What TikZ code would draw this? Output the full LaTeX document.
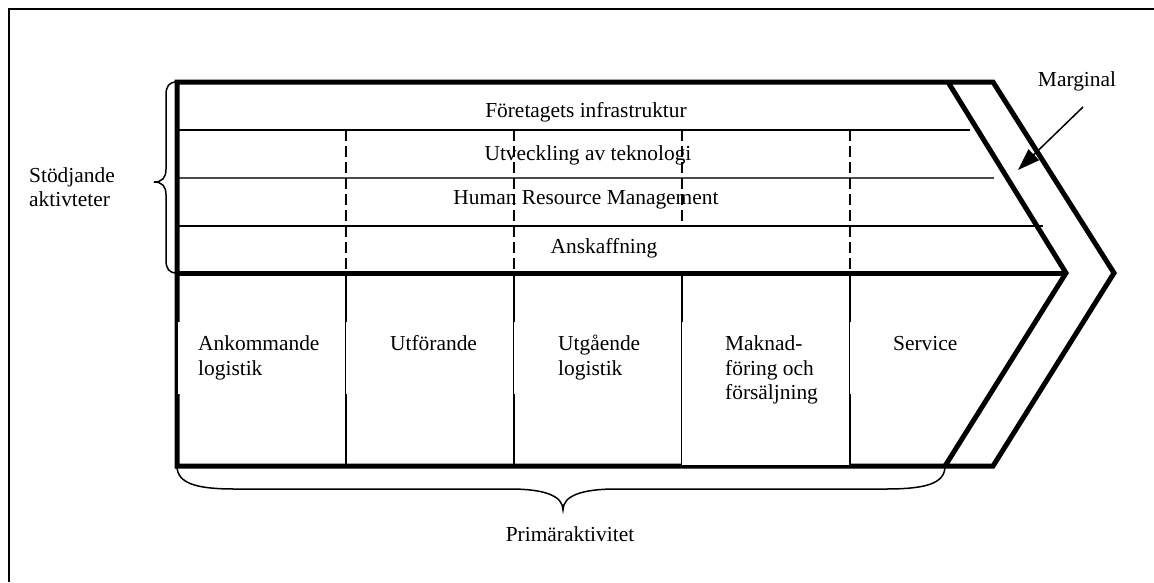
\documentclass[tikz,border=0pt]{standalone}
\usepackage{fontspec}
\setmainfont{Liberation Serif}
\usetikzlibrary{arrows.meta}
\begin{document}
\begin{tikzpicture}[x=1pt,y=-1pt,
  heavy/.style={line width=5pt, line join=miter},
  rowline/.style={line width=1.7pt},
  colline/.style={line width=2pt},
  dashline/.style={line width=2pt, dash pattern=on 11pt off 5pt},
  bracepath/.style={line width=1.5pt},
  lbl/.style={font=\fontsize{21.4}{24.5}\selectfont, inner sep=0pt},
  cellpad/.style={fill=white},
]
\useasboundingbox (0,0) rectangle (1154,582);

% page frame (top and left edges only)
\draw[line width=2pt] (9,582) -- (9,9) -- (1154,9);

% key corners of the value chain
\coordinate (tl) at (177,82);
\coordinate (ml) at (177,273);
\coordinate (bl) at (177,466);
\coordinate (itop) at (948,82);
\coordinate (itip) at (1066,273);
\coordinate (ibot) at (945,466);
\coordinate (otop) at (993,82);
\coordinate (otip) at (1114,273);
\coordinate (obot) at (993,466);

% rows of the support activities
\draw[rowline] (177,130) -- (970,130);
\draw[line width=1.2pt, black!70] (177,178) -- (994,178);
\draw[rowline] (177,226) -- (1043,226);

% dashed column guides in the support area
\draw[dashline] (346,130) -- (346,273);
\draw[dashline] (514,130) -- (514,273);
\draw[dashline] (682,130) -- (682,226);
\draw[dashline] (850,130) -- (850,273);

% column separators of the primary activities
\draw[colline] (346,273) -- (346,466);
\draw[colline] (514,273) -- (514,466);
\draw[colline] (682,273) -- (682,466);
\draw[colline] (850,273) -- (850,466);

% heavy outline: body, inner chevron and margin band
\draw[heavy] (tl) -- (otop) -- (otip) -- (obot) -- (bl) -- cycle;
\draw[heavy] (itop) -- (itip) -- (ibot);
\draw[heavy] (ml) -- (itip);

% white pads behind the primary activity labels
\fill[cellpad] (177.5,322) rectangle (345,394);
\fill[cellpad] (346,322) rectangle (513,394);
\fill[cellpad] (514,322) rectangle (681,394);
\fill[cellpad] (682,322) rectangle (849,465);
\fill[cellpad] (850,322) rectangle (972,394);

% support activity labels
\node[lbl, anchor=base] (infra) at (586,117) {Företagets infrastruktur};
\node[lbl, anchor=base] (tekn) at (588,160) {Utveckling av teknologi};
\node[lbl, anchor=base] (hrm) at (586,204) {Human Resource Management};
\node[lbl, anchor=base] (ansk) at (604,253) {Anskaffning};

% primary activity labels (base = baseline of the last line)
\node[lbl, anchor=base west, align=left] (ank) at (198,375.2) {Ankommande\\logistik};
\node[lbl, anchor=base west, align=left] (utf) at (390,350.7) {Utförande};
\node[lbl, anchor=base west, align=left] (utg) at (558,375.2) {Utgående\\logistik};
\node[lbl, anchor=base west, align=left] (mark) at (725,399.7) {Maknad-\\föring och\\försäljning};
\node[lbl, anchor=base west, align=left] (serv) at (893,350.7) {Service};

% group labels
\node[lbl, anchor=base west, align=left] (stod) at (29,206.5) {Stödjande\\aktivteter};
\node[lbl, anchor=base] (prim) at (570,541) {Primäraktivitet};
\node[lbl, anchor=base] (marg) at (1077,86) {Marginal};

% braces
\draw[bracepath] (tl) .. controls (169,82) and (166,86) .. (166,95)
  -- (166,169) .. controls (166,178) and (162,182) .. (154,182)
  .. controls (162,182) and (166,186) .. (166,195)
  -- (166,260) .. controls (166,269) and (169,273) .. (ml);
\draw[bracepath] (bl) .. controls (177,484) and (198,489) .. (235,489)
  -- (510,489) .. controls (545,489) and (563,496) .. (563,510)
  .. controls (563,496) and (581,489) .. (616,489)
  -- (885,489) .. controls (925,489) and (945,484) .. (ibot);

% margin pointer
\coordinate (mfrom) at (1083,107);
\coordinate (mto) at (1018,170);
\draw[line width=1.5pt, -{Triangle[length=22pt,width=15pt]}] (mfrom) -- (mto);
\end{tikzpicture}
\end{document}
